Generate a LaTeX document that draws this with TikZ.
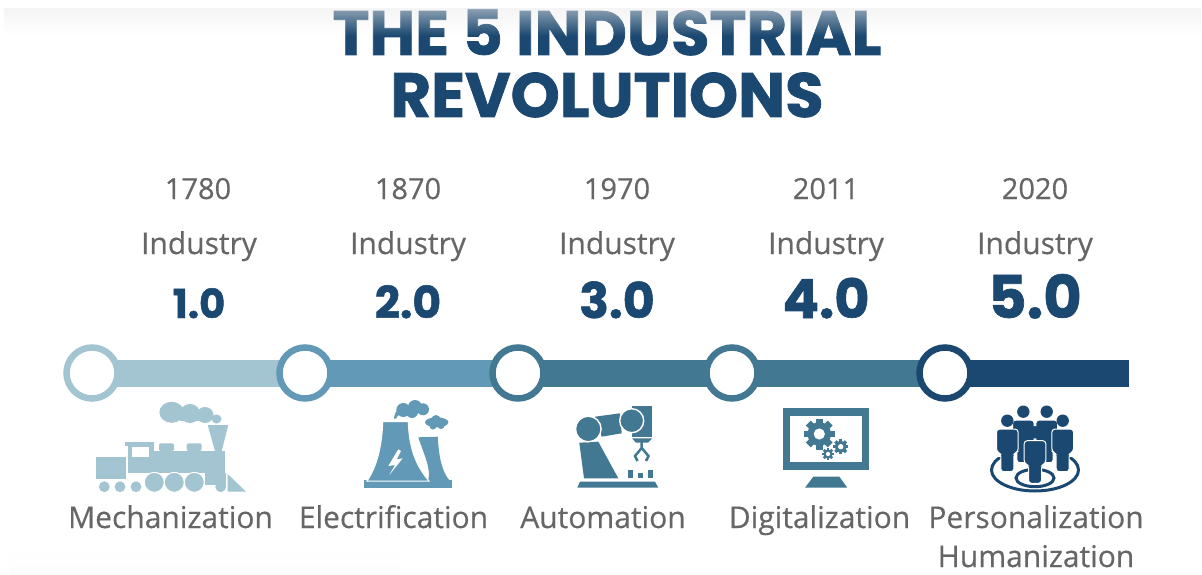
\documentclass[tikz,border=0pt]{standalone}
\usepackage{fontspec}
\setmainfont{Open Sans}[FakeBold=0.4]
\newfontfamily\titlefont{Poppins}[BoldFeatures={FakeBold=1.2}]
\usetikzlibrary{backgrounds,fadings}
\definecolor{colone}{HTML}{A3C4D1}
\definecolor{coltwo}{HTML}{6299B6}
\definecolor{colthree}{HTML}{427892}
\definecolor{colfive}{HTML}{1B4870}
\definecolor{txtgray}{HTML}{666666}
\tikzfading[name=topfade,top color=transparent!45,bottom color=transparent!100]
\tikzfading[name=lowfade,top color=transparent!100,bottom color=transparent!60]
\newcommand{\sz}[1]{\fontsize{#1}{#1}\selectfont}
\tikzset{
	ring/.style={circle,fill=white,draw=#1,line width=6.5pt,minimum size=51pt,inner sep=0pt},
	bar/.style={line width=27pt,#1},
	titletext/.style={anchor=base,text=colfive,inner sep=0pt,font=\titlefont\bfseries\sz{62.5}},
	yeartext/.style={anchor=base,text=txtgray,inner sep=0pt,font=\sz{29}},
	indtext/.style={anchor=base,text=txtgray,inner sep=0pt,font=\sz{30}},
	vertext/.style={anchor=base,text=colfive,inner sep=0pt},
	labeltext/.style={anchor=base,text=txtgray,inner sep=0pt,font=\sz{30}},
	whiteline/.style={draw=white,line width=1pt}
}
% one standing figure, head centre at #1,#2
\newcommand{\personicon}[2]{
	\fill[colfive] (#1,#2) circle (6.2);
	\filldraw[colfive,draw=white,line width=1pt,rounded corners=3pt] (#1-10.8,#2+8.4) --(#1+10.8,#2+8.4) --(#1+10.8,#2+31) --(#1+6.5,#2+33) --(#1+6.5,#2+51) --(#1-6.5,#2+51) --(#1-6.5,#2+33) --(#1-10.8,#2+31) --cycle;
}
% gear, centre #1,#2, outer radius #3
\newcommand{\gearicon}[3]{
	\foreach \a in {0,45,...,315}
		\fill[colthree,rotate around={\a:(#1,#2)}] (#1-0.22*#3,#2-#3) rectangle (#1+0.22*#3,#2);
	\fill[colthree] (#1,#2) circle (0.76*#3);
	\fill[white] (#1,#2) circle (0.36*#3);
}
\begin{document}
\begin{tikzpicture}[x=1pt,y=-1pt]
	\useasboundingbox (0,0) rectangle (1202,575);
	% title
	\node[titletext] (title1) at (607,55) {THE 5 INDUSTRIAL};
	\node[titletext] (title2) at (607,117) {REVOLUTIONS};
	\fill[gray!15,path fading=topfade] (4,8) rectangle (1202,36);
	\fill[gray!5,path fading=lowfade] (9,548) rectangle (400,575);
	% columns
	\node[yeartext] (year1) at (198,199) {1780};
	\node[yeartext] (year2) at (408,199) {1870};
	\node[yeartext] (year3) at (617,199) {1970};
	\node[yeartext] (year4) at (826,199) {2011};
	\node[yeartext] (year5) at (1035,199) {2020};
	\node[indtext] (ind1) at (199,254) {Industry};
	\node[indtext] (ind2) at (408,254) {Industry};
	\node[indtext] (ind3) at (617,254) {Industry};
	\node[indtext] (ind4) at (826,254) {Industry};
	\node[indtext] (ind5) at (1035,254) {Industry};
	\node[vertext,font=\titlefont\bfseries\sz{40}] (ver1) at (199,318) {1.0};
	\node[vertext,font=\titlefont\bfseries\sz{44}] (ver2) at (408,318) {2.0};
	\node[vertext,font=\titlefont\bfseries\sz{49}] (ver3) at (617,318) {3.0};
	\node[vertext,font=\titlefont\bfseries\sz{54}] (ver4) at (826,318) {4.0};
	\node[vertext,font=\titlefont\bfseries\sz{59}] (ver5) at (1035,318) {5.0};
	% timeline
	\node[ring=colone] (c1) at (92,373) {};
	\node[ring=coltwo] (c2) at (305,373) {};
	\node[ring=colthree] (c3) at (518,373) {};
	\node[ring=colthree] (c4) at (732,373) {};
	\node[ring=colfive] (c5) at (945,373) {};
	\coordinate (barend) at (1128.5,373);
	\begin{scope}[on background layer]
		\draw[bar=colone] (c1.center) --(c2.center);
		\draw[bar=coltwo] (c2.center) --(c3.center);
		\draw[bar=colthree] (c3.center) --(c4.center);
		\draw[bar=colthree] (c4.center) --(c5.center);
		\draw[bar=colfive] (c5.center) --(barend);
	\end{scope}
	% train
	\fill[colone] (95.7,456.7) rectangle (125.7,479.3);
	\fill[colone] (125,442.3) rectangle (154.3,445.7);
	\fill[colone] (128.3,445) rectangle (154.3,473.3);
	\fill[colone] (128.3,450.7) rectangle (225,473.3);
	\fill[white] (132.3,447.3) rectangle (149.3,456.7);
	\fill[colone,rounded corners=2pt] (159,443.3) rectangle (174,451);
	\fill[colone,rounded corners=2pt] (186.7,443.3) rectangle (201.7,451);
	\fill[colone] (207.7,425) --(228.3,425) --(221.7,451) --(215,451) --cycle;
	\fill[colone] (171.7,412.3) ellipse (12.3 and 10.5);
	\fill[colone] (190,413.5) ellipse (10 and 9.5);
	\fill[colone] (205,415) ellipse (8.5 and 8);
	\fill[colone] (216.5,419) ellipse (5 and 4.5);
	\fill[colone] (180,414) rectangle (210,421);
	\fill[colone] (205,473) rectangle (226,485);
	\filldraw[colone,whiteline] (154.3,482.3) circle (10);
	\filldraw[colone,whiteline] (174.3,482.3) circle (10);
	\filldraw[colone,whiteline] (194.3,482.3) circle (10);
	\fill[colone] (104.3,486.7) circle (5.4);
	\fill[colone] (120,486.7) circle (5.4);
	\fill[colone] (136,486.7) circle (5.4);
	\fill[colone] (220.7,486.7) circle (5.4);
	\fill[colone] (227.7,474) --(246,491.7) --(227.7,491.7) --cycle;
	% power plant
	\fill[coltwo] (364,480) rectangle (452.3,487.7);
	\fill[coltwo] (418.3,437.3) --(437.7,436.7) .. controls (439,458) and (442,472) .. (450,481) --(428,481) .. controls (432,470) and (423,452) .. (418.3,437.3) --cycle;
	\filldraw[coltwo,whiteline] (382.7,421.7) --(408.3,421.7) .. controls (409,448) and (416,466) .. (429,481) --(367,481) .. controls (376,468) and (382,448) .. (382.7,421.7) --cycle;
	\fill[white] (398.3,449.3) --(388.3,466) --(395,465) --(389.3,475) --(402.7,458.3) --(396.7,459.3) --(401,451) --cycle;
	\fill[coltwo] (403.3,410) circle (7);
	\fill[coltwo] (415,407) circle (7);
	\fill[coltwo] (423,409.3) circle (6);
	\fill[coltwo] (412,412) circle (6);
	\fill[coltwo] (394,418.5) .. controls (395,410) and (400,406) .. (406,404) --(408,414) .. controls (402,413) and (398,414) .. (396,418.5) --cycle;
	\fill[coltwo] (436.7,422.3) ellipse (11.7 and 5);
	\fill[coltwo] (436,419.5) circle (4.5);
	\fill[coltwo] (433,426) circle (3.5);
	\fill[coltwo] (441,425.5) circle (3.5);
	% robot arm
	\fill[colthree] (580,481.7) --(655,481.7) --(658.3,487.7) --(577.3,487.7) --cycle;
	\fill[colthree] (579.3,442.7) --(598.3,441.7) --(618.3,478.3) --(584,478.3) --cycle;
	\fill[colthree] (595,416.7) --(620,413.3) --(621.7,433.3) --(601.7,436.7) --cycle;
	\filldraw[colthree,draw=white,line width=1.4pt] (588.3,429) circle (12.8);
	\fill[colthree] (631.7,406) rectangle (652.3,436.7);
	\filldraw[colthree,draw=white,line width=1.4pt] (631.7,420.7) circle (12);
	\fill[colthree] (632,438.3) --(652.3,438.3) --(648,442.7) --(636,442.7) --cycle;
	\draw[colthree,line width=2.5pt] (641.7,442) --(641.7,448) --(635,456) --(637.5,461);
	\draw[colthree,line width=2.5pt] (641.7,448) --(648.5,456) --(646,461);
	\fill[colthree] (628.3,470) rectangle (633.3,477.7);
	\fill[colthree] (638.3,473.3) rectangle (643.3,477.7);
	\fill[colthree] (648.3,470) rectangle (653.3,477.7);
	% monitor
	\fill[colthree] (782.7,408.3) rectangle (869.3,470);
	\fill[white] (790,416) rectangle (862.3,462.3);
	\fill[colthree] (813.3,476.7) --(839.3,476.7) --(847.3,487.7) --(805,487.7) --cycle;
	\gearicon{819.3}{434}{15.5}
	\gearicon{840.7}{446.7}{7.5}
	\gearicon{828}{454}{6}
	% people
	\begin{scope}
		\clip (980,457) rectangle (1090,495);
		\draw[colfive,line width=3pt] (1035,470) ellipse (43.5 and 21);
	\end{scope}
	\draw[colfive,line width=3pt] (1035,478) ellipse (19 and 8.7);
	\personicon{1023.3}{411.7}
	\personicon{1046.7}{411.7}
	\personicon{1007.3}{420.7}
	\personicon{1062.7}{420.7}
	\personicon{1035}{432.3}
	% captions
	\node[labeltext] (lab1) at (170.5,528) {Mechanization};
	\node[labeltext] (lab2) at (393.5,528) {Electrification};
	\node[labeltext] (lab3) at (603,528) {Automation};
	\node[labeltext] (lab4) at (819.5,528) {Digitalization};
	\node[labeltext] (lab5) at (1036,528) {Personalization};
	\node[labeltext] (lab6) at (1036,567) {Humanization};
\end{tikzpicture}
\end{document}
